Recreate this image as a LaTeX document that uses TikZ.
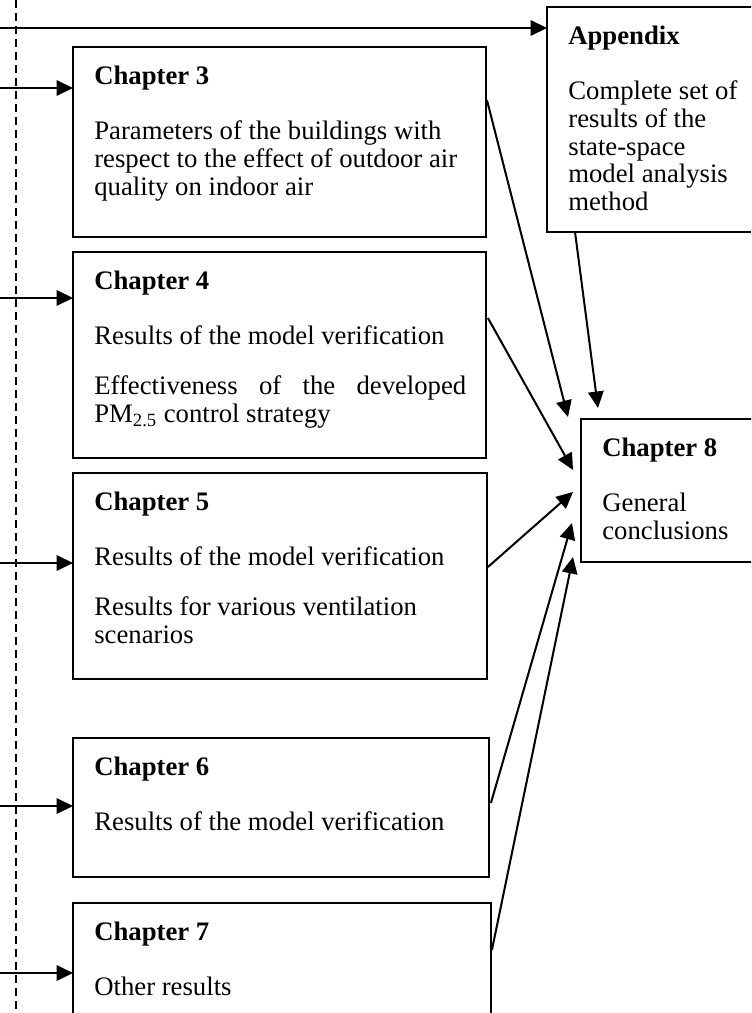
\documentclass[tikz,border=0pt]{standalone}
\usepackage{fontspec}
\setmainfont{Liberation Serif}
\usetikzlibrary{arrows.meta,calc}

\begin{document}
\begin{tikzpicture}[
  x=0.02cm, y=-0.02cm,
  chapbox/.style={rectangle, draw=black, line width=1.4pt, inner sep=0pt, outer sep=0pt, anchor=north west},
  chaptext/.style={anchor=north west, inner sep=0pt, align=left, font=\fontsize{15.2}{15.9}\selectfont},
  every edge/.style={  % arrows between the boxes
            draw,
            -{Triangle[length=3.3mm,width=3.1mm]},
            line width=1.15pt}
]
  \useasboundingbox (0,0) rectangle (751,1013);
  \clip (0,0) rectangle (751,1013);

  % boxes
  \node[chapbox, minimum width=5.3cm, minimum height=4.5cm] (app) at (547,7) {};
  \node[chapbox, minimum width=8.26cm, minimum height=3.8cm] (ch3) at (73,47) {};
  \node[chapbox, minimum width=8.26cm, minimum height=4.12cm] (ch4) at (73,252) {};
  \node[chapbox, minimum width=8.28cm, minimum height=4.12cm] (ch5) at (73,473) {};
  \node[chapbox, minimum width=8.32cm, minimum height=2.78cm] (ch6) at (73,738) {};
  \node[chapbox, minimum width=8.36cm, minimum height=2.9cm] (ch7) at (73,903) {};
  \node[chapbox, minimum width=4.5cm, minimum height=2.86cm] (ch8) at (581,419) {};

  % texts
  \node[chaptext] (appT) at ($(app.north west)+(21,19)$) {\textbf{Appendix}\\[15pt]
    Complete set of\\ results of the\\ state-space\\ model analysis\\ method};
  \node[chaptext] (ch3T) at ($(ch3.north west)+(21,19)$) {\textbf{Chapter 3}\\[15pt]
    Parameters of the buildings with\\ respect to the effect of outdoor air\\ quality on indoor air};
  \node[chaptext] (ch4T) at ($(ch4.north west)+(21,19)$) {\textbf{Chapter 4}\\[15pt]
    Results of the model verification\\[13pt]
    \makebox[7.44cm][s]{Effectiveness of the developed}\\ PM\textsubscript{2.5} control strategy};
  \node[chaptext] (ch5T) at ($(ch5.north west)+(21,19)$) {\textbf{Chapter 5}\\[15pt]
    Results of the model verification\\[13pt]
    Results for various ventilation\\ scenarios};
  \node[chaptext] (ch6T) at ($(ch6.north west)+(21,19)$) {\textbf{Chapter 6}\\[15pt]
    Results of the model verification};
  \node[chaptext] (ch7T) at ($(ch7.north west)+(21,19)$) {\textbf{Chapter 7}\\[15pt]
    Other results};
  \node[chaptext] (ch8T) at ($(ch8.north west)+(21,19)$) {\textbf{Chapter 8}\\[15pt]
    General\\ conclusions};

  % dashed divider and incoming arrows
  \coordinate (dtop) at (16,0);
  \coordinate (dbot) at (16,1013);
  \draw[line width=1.3pt, dash pattern=on 0.16cm off 0.1cm] (dtop) -- (dbot);
  \coordinate (inA) at (0,28);
  \coordinate (in3) at (0,88);
  \coordinate (in4) at (0,298);
  \coordinate (in5) at (0,563);
  \coordinate (in6) at (0,806);
  \coordinate (in7) at (0,973);
  \draw (inA) edge (inA -| app.west);
  \draw (in3) edge (in3 -| ch3.west);
  \draw (in4) edge (in4 -| ch4.west);
  \draw (in5) edge (in5 -| ch5.west);
  \draw (in6) edge (in6 -| ch6.west);
  \draw (in7) edge (in7 -| ch7.west);

  % arrows into chapter 8
  \draw ($(ch3.north east)+(1,53)$) edge ($(ch8.north west)+(-13,-2)$);
  \draw ($(app.south west)+(28,0)$) edge ($(ch8.north west)+(17,-11)$);
  \draw ($(ch4.north east)+(2,66)$) edge ($(ch8.north west)+(-8,51)$);
  \draw ($(ch5.north east)+(1,94)$) edge ($(ch8.north west)+(-8,73)$);
  \draw ($(ch6.north east)+(2,65)$) edge ($(ch8.north west)+(-9,104)$);
  \draw ($(ch7.north east)+(1,47)$) edge ($(ch8.north west)+(-8,138)$);
\end{tikzpicture}
\end{document}
